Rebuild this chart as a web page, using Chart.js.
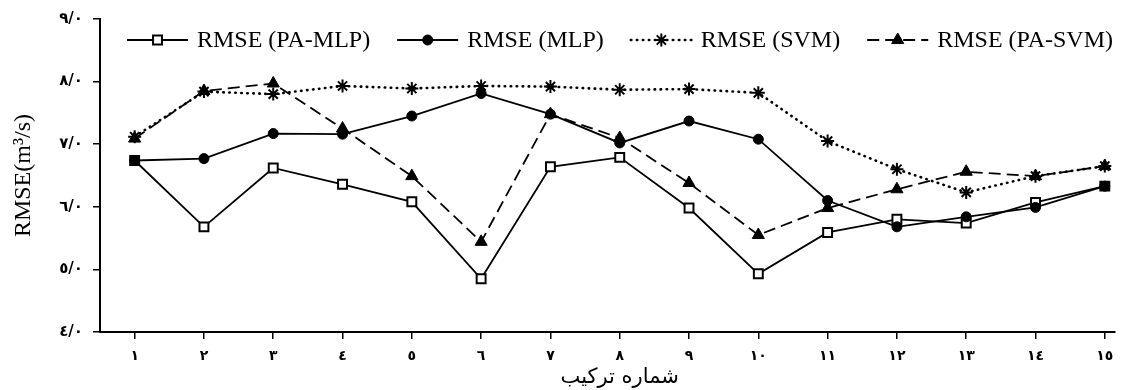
<!DOCTYPE html>
<html><head><meta charset="utf-8">
<script src="https://cdn.jsdelivr.net/npm/chart.js@4"></script>
<style>html,body{margin:0;padding:0;background:#fff;overflow:hidden}#wrap{width:1123px;height:390px;position:relative}</style>
</head><body><div id="wrap"><canvas id="c"></canvas></div>
<script>
const categories = ['١','٢','٣','٤','٥','٦','٧','٨','٩','١٠','١١','١٢','١٣','١٤','١٥'];
const yTickValues = [4, 5, 6, 7, 8, 9];
const yTickLabels = ['٤/٠','٥/٠','٦/٠','٧/٠','٨/٠','٩/٠'];
const seriesNames = ['RMSE (PA-MLP)', 'RMSE (MLP)', 'RMSE (SVM)', 'RMSE (PA-SVM)'];
const paMlp = [6.74, 5.68, 6.62, 6.36, 6.08, 4.85, 6.64, 6.79, 5.98, 4.93, 5.59, 5.80, 5.74, 6.07, 6.33];
const mlp   = [6.74, 6.77, 7.17, 7.16, 7.45, 7.81, 7.48, 7.02, 7.37, 7.08, 6.10, 5.68, 5.84, 5.99, 6.33];
const svm   = [7.12, 7.84, 7.80, 7.93, 7.89, 7.93, 7.92, 7.87, 7.88, 7.82, 7.05, 6.60, 6.23, 6.49, 6.65];
const paSvm = [7.09, 7.85, 7.97, 7.25, 6.49, 5.44, 7.48, 7.10, 6.38, 5.55, 5.98, 6.28, 6.56, 6.49, 6.65];
const xTitle = 'شماره ترکیب';
const yTitle = 'RMSE(m³/s)';

const toXY = arr => arr.map((y, i) => ({x: i + 1, y}));

const legendPlugin = {
  id: 'lineLegend',
  afterDraw(chart) {
    const ctx = chart.ctx, area = chart.chartArea;
    ctx.save();
    ctx.font = '24px "Liberation Serif"';
    let x = area.left + 27;
    const y = area.top + 21;
    chart.data.datasets.forEach(ds => {
      const w = 61;
      ctx.strokeStyle = '#000';
      ctx.lineWidth = ds.borderWidth;
      ctx.setLineDash(ds.borderDash || []);
      ctx.lineCap = ds.borderCapStyle || 'butt';
      ctx.beginPath(); ctx.moveTo(x, y); ctx.lineTo(x + w, y); ctx.stroke();
      ctx.setLineDash([]);
      ctx.lineCap = 'butt';
      ctx.fillStyle = ds.pointBackgroundColor;
      ctx.strokeStyle = '#000';
      ctx.lineWidth = ds.pointBorderWidth;
      Chart.helpers.drawPoint(ctx, {pointStyle: ds.pointStyle, radius: ds.pointRadius, rotation: 0, borderWidth: ds.pointBorderWidth}, x + w / 2, y);
      ctx.fillStyle = '#000';
      ctx.textBaseline = 'middle';
      ctx.textAlign = 'left';
      ctx.fillText(ds.label, x + w + 9, y + 1);
      x += w + 9 + ctx.measureText(ds.label).width + 27;
    });
    // x-axis title, centred on the full category span
    const xs = chart.scales.x;
    ctx.font = '21px "DejaVu Sans"';
    ctx.textAlign = 'center';
    ctx.textBaseline = 'middle';
    ctx.fillStyle = '#000';
    ctx.fillText(xTitle, xs.getPixelForValue((categories.length + 1) / 2), xs.bottom - 12);
    ctx.restore();
  }
};

const base = {borderColor: '#000', pointBorderColor: '#000', fill: false, tension: 0};
new Chart(document.getElementById('c'), {
  type: 'line',
  data: {
    datasets: [
      Object.assign({}, base, {label: seriesNames[0], data: toXY(paMlp), borderWidth: 1.8, pointStyle: 'rect', pointRadius: 6.3, pointBorderWidth: 2, pointBackgroundColor: '#fff', order: 1}),
      Object.assign({}, base, {label: seriesNames[1], data: toXY(mlp), borderWidth: 1.8, pointStyle: 'circle', pointRadius: 5, pointBorderWidth: 1, pointBackgroundColor: '#000', order: 0}),
      Object.assign({}, base, {label: seriesNames[2], data: toXY(svm), borderWidth: 2.6, borderDash: [0.5, 5.5], borderCapStyle: 'round', pointStyle: 'star', pointRadius: 6.5, pointBorderWidth: 2, pointBackgroundColor: '#000', order: 3}),
      Object.assign({}, base, {label: seriesNames[3], data: toXY(paSvm), borderWidth: 1.8, borderDash: [12, 6], pointStyle: 'triangle', pointRadius: 7, pointBorderWidth: 1, pointBackgroundColor: '#000', order: 2})
    ]
  },
  options: {
    responsive: true,
    maintainAspectRatio: false,
    animation: false,
    events: [],
    layout: {padding: {top: 19, right: 0, bottom: 0, left: 0}},
    plugins: {legend: {display: false}, tooltip: {enabled: false}},
    scales: {
      x: {
        type: 'linear',
        min: 0.5,
        max: 15.14,
        afterBuildTicks: s => { s.ticks = categories.map((_, i) => ({value: i + 1})); },
        afterFit: s => { s.height = 58; },
        grid: {display: true, drawOnChartArea: false, drawTicks: true, tickLength: 7, color: '#000', lineWidth: 1.5},
        border: {display: true, color: '#000', width: 2},
        ticks: {
          autoSkip: false, maxRotation: 0, padding: 9, color: '#000',
          font: {family: 'DejaVu Sans', size: 14, weight: 'bold'},
          callback: v => categories[Math.round(v) - 1]
        },
        title: {display: false}
      },
      y: {
        min: 4,
        max: 9,
        afterBuildTicks: s => { s.ticks = yTickValues.map(v => ({value: v})); },
        afterFit: s => { s.width = 100; },
        grid: {display: true, drawOnChartArea: false, drawTicks: true, tickLength: 7, color: '#000', lineWidth: 1.5},
        border: {display: true, color: '#000', width: 2},
        ticks: {
          padding: 10, color: '#000',
          font: {family: 'DejaVu Sans', size: 15, weight: 'bold'},
          callback: v => yTickLabels[yTickValues.indexOf(v)]
        },
        title: {display: true, text: yTitle, color: '#000', font: {family: 'Liberation Serif', size: 24}, padding: {top: 9, bottom: 0}}
      }
    }
  },
  plugins: [legendPlugin]
});
</script>
</body></html>
